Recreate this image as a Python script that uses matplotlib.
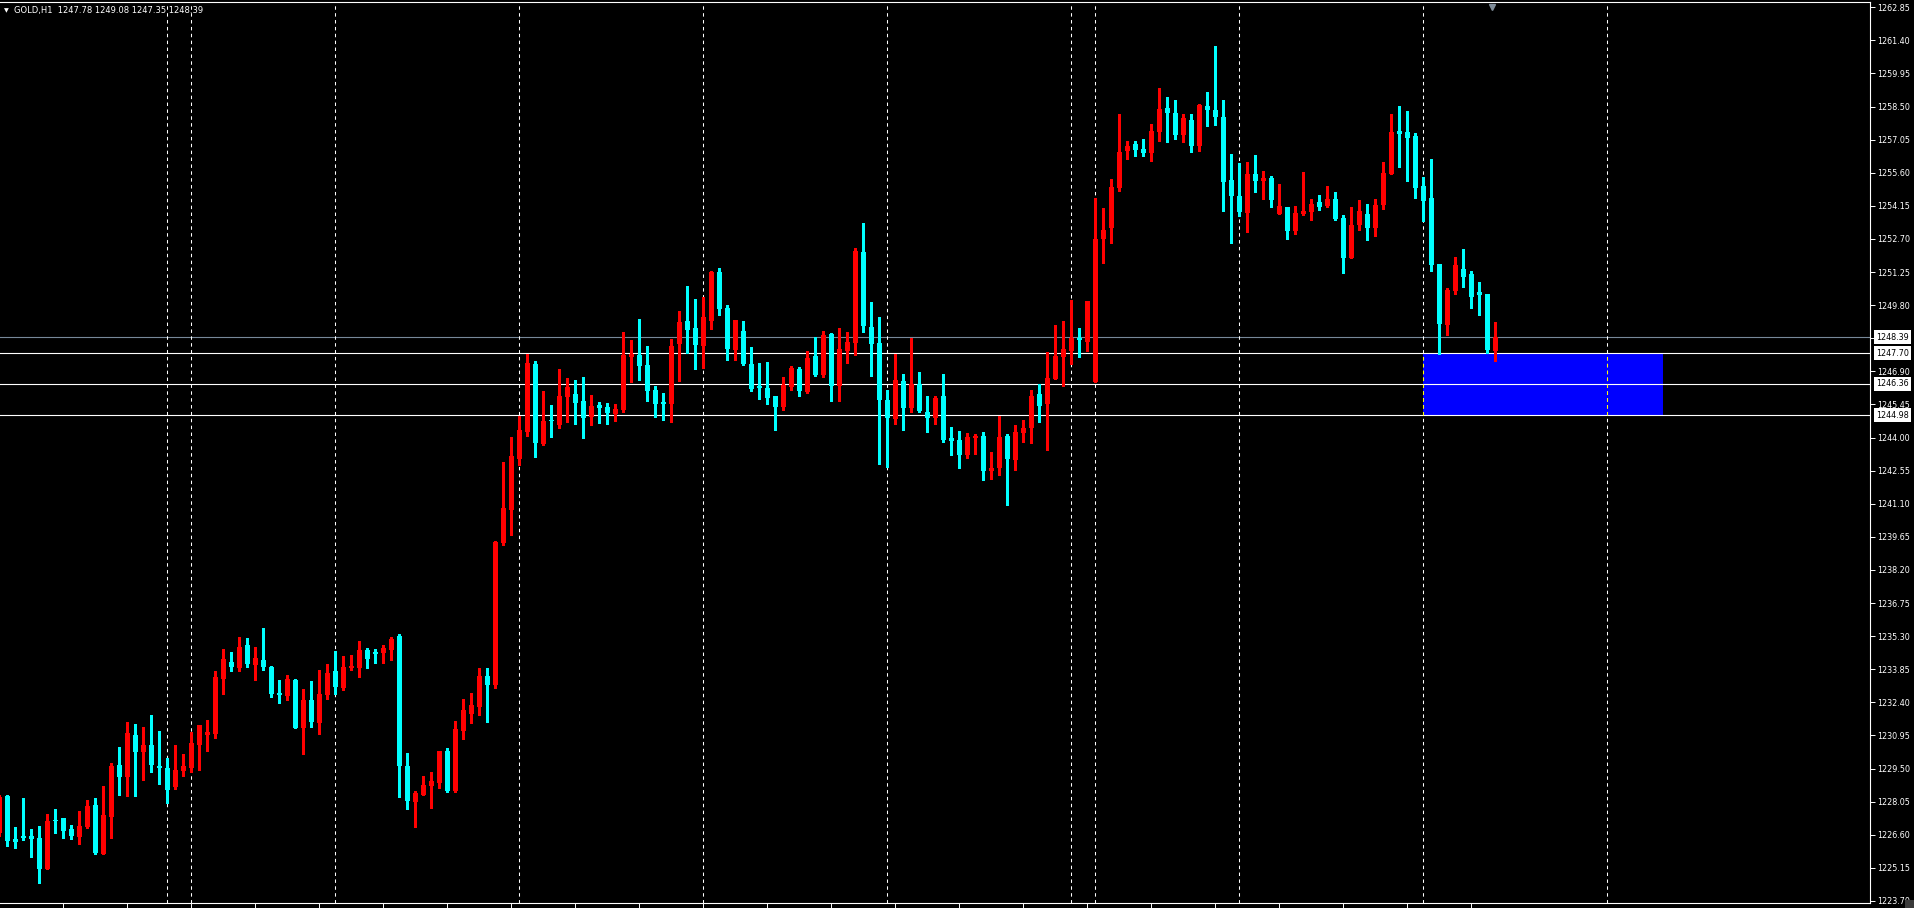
import matplotlib
matplotlib.use('Agg')
import matplotlib.pyplot as plt
import matplotlib.transforms as mtransforms
from matplotlib.patches import Rectangle
import numpy as np

# GOLD H1 - barras (indice da primeira barra = -1)
symbol = 'GOLD,H1'
first_bar = -1

opens = [
    1226.69, 1228.30, 1226.41, 1226.55, 1226.55, 1226.46, 1225.10, 1227.25, 1227.33, 1226.85,
    1226.50, 1226.94, 1227.90, 1225.76, 1227.38, 1229.66, 1229.13, 1230.97, 1230.22, 1230.53,
    1229.61, 1229.52, 1228.69, 1229.39, 1229.52, 1230.53, 1230.97, 1231.01, 1233.42, 1234.16,
    1233.90, 1234.91, 1234.03, 1234.25, 1233.95, 1232.81, 1232.68, 1233.38, 1231.27, 1232.50,
    1231.49, 1232.72, 1233.77, 1233.03, 1233.90, 1233.90, 1234.69, 1234.60, 1234.56, 1234.69,
    1235.30, 1229.61, 1228.03, 1228.34, 1228.74, 1228.87, 1230.27, 1228.52, 1231.14, 1231.89,
    1232.19, 1233.55, 1233.16, 1239.37, 1240.82, 1243.05, 1244.23, 1247.21, 1243.71, 1244.76,
    1244.54, 1245.77, 1245.90, 1245.59, 1244.89, 1245.42, 1245.33, 1245.02, 1245.20, 1247.52,
    1247.60, 1247.17, 1246.07, 1245.55, 1245.46, 1248.09, 1249.09, 1248.79, 1248.00, 1249.09,
    1251.24, 1249.66, 1247.83, 1248.66, 1247.21, 1246.25, 1246.16, 1245.81, 1245.33, 1246.20,
    1246.99, 1245.99, 1247.56, 1246.73, 1248.53, 1246.25, 1247.78, 1248.13, 1252.12, 1248.83,
    1248.13, 1245.64, 1244.80, 1246.47, 1245.29, 1246.34, 1245.11, 1244.85, 1245.81, 1243.97,
    1243.88, 1243.23, 1243.97, 1244.06, 1242.53, 1242.66, 1244.06, 1243.01, 1244.19, 1244.41,
    1245.90, 1245.46, 1246.55, 1247.52, 1247.78, 1248.35, 1248.17, 1246.42, 1252.68, 1253.17,
    1254.92, 1256.54, 1256.84, 1256.63, 1256.45, 1257.37, 1258.42, 1258.20, 1257.24, 1257.89,
    1256.76, 1258.51, 1258.33, 1258.03, 1255.27, 1254.57, 1253.82, 1255.53, 1255.22, 1255.36,
    1253.78, 1254.09, 1253.04, 1253.78, 1253.87, 1254.30, 1254.13, 1254.44, 1253.60, 1251.85,
    1253.30, 1253.78, 1253.17, 1254.17, 1255.53, 1257.41, 1257.37, 1257.19, 1255.01, 1254.48,
    1251.59, 1248.92, 1250.41, 1251.37, 1251.15, 1250.36, 1250.28, 1247.78,
]
highs = [
    1228.35, 1228.34, 1226.94, 1228.21, 1226.84, 1226.98, 1227.51, 1227.73, 1227.33, 1227.03,
    1227.64, 1228.12, 1228.21, 1228.74, 1229.74, 1230.44, 1231.54, 1231.45, 1231.32, 1231.84,
    1231.14, 1229.96, 1230.53, 1230.14, 1231.10, 1231.41, 1231.63, 1233.77, 1234.73, 1234.60,
    1235.26, 1235.21, 1234.82, 1235.65, 1233.99, 1233.38, 1233.60, 1233.42, 1232.98, 1233.33,
    1233.81, 1234.08, 1234.65, 1234.43, 1234.47, 1235.08, 1234.78, 1234.73, 1234.91, 1235.26,
    1235.39, 1230.18, 1228.52, 1229.17, 1229.35, 1230.27, 1230.40, 1231.58, 1232.54, 1232.81,
    1233.90, 1233.90, 1239.46, 1242.92, 1244.02, 1244.93, 1247.65, 1247.34, 1246.03, 1245.42,
    1246.99, 1246.60, 1246.51, 1246.64, 1245.86, 1245.55, 1245.50, 1245.46, 1248.61, 1248.26,
    1249.18, 1248.00, 1246.25, 1245.94, 1248.31, 1249.53, 1250.63, 1250.06, 1250.15, 1251.28,
    1251.42, 1249.80, 1249.14, 1249.09, 1247.96, 1247.25, 1247.30, 1245.81, 1246.64, 1247.12,
    1247.08, 1247.78, 1248.39, 1248.66, 1248.57, 1248.79, 1248.61, 1252.30, 1253.40, 1249.93,
    1249.27, 1246.10, 1247.65, 1246.77, 1248.35, 1246.86, 1245.81, 1245.81, 1246.77, 1244.45,
    1244.28, 1244.19, 1244.15, 1244.23, 1243.36, 1244.94, 1244.15, 1244.54, 1244.76, 1246.07,
    1246.34, 1247.74, 1248.92, 1249.09, 1250.01, 1248.79, 1249.97, 1254.48, 1254.04, 1255.31,
    1258.16, 1256.97, 1256.97, 1257.06, 1257.72, 1259.30, 1258.90, 1258.77, 1258.16, 1258.16,
    1258.60, 1259.12, 1261.13, 1258.77, 1256.41, 1256.01, 1256.06, 1256.36, 1255.66, 1255.44,
    1255.09, 1254.09, 1254.13, 1255.62, 1254.44, 1254.61, 1255.01, 1254.74, 1253.74, 1254.09,
    1254.39, 1254.22, 1254.44, 1256.06, 1258.16, 1258.51, 1258.29, 1257.33, 1255.40, 1256.19,
    1251.59, 1250.54, 1251.90, 1252.25, 1251.28, 1250.80, 1250.28, 1249.08,
]
lows = [
    1226.55, 1226.11, 1226.02, 1226.37, 1225.63, 1224.49, 1225.10, 1226.68, 1226.46, 1226.41,
    1226.20, 1226.90, 1225.76, 1225.76, 1226.46, 1228.34, 1228.30, 1228.30, 1229.00, 1229.35,
    1228.82, 1227.99, 1228.60, 1229.17, 1229.35, 1229.44, 1230.27, 1230.84, 1232.76, 1233.77,
    1233.77, 1233.95, 1233.38, 1233.81, 1232.63, 1232.37, 1232.50, 1231.27, 1230.14, 1231.32,
    1231.01, 1232.54, 1232.76, 1232.94, 1233.81, 1233.51, 1233.90, 1234.12, 1234.12, 1234.25,
    1228.25, 1227.73, 1226.94, 1228.34, 1227.77, 1228.65, 1228.47, 1228.47, 1230.79, 1231.49,
    1231.84, 1231.54, 1233.03, 1239.29, 1239.72, 1242.79, 1244.06, 1243.14, 1243.67, 1244.02,
    1244.41, 1244.67, 1244.59, 1243.97, 1244.54, 1244.63, 1244.59, 1244.72, 1245.11, 1246.42,
    1246.51, 1245.59, 1244.89, 1244.76, 1244.67, 1246.47, 1247.69, 1246.99, 1247.04, 1248.74,
    1249.36, 1247.39, 1247.39, 1247.17, 1246.03, 1245.68, 1245.46, 1244.32, 1245.20, 1246.07,
    1245.81, 1245.94, 1246.69, 1246.64, 1245.59, 1245.59, 1247.25, 1247.60, 1248.61, 1246.69,
    1242.83, 1242.70, 1244.58, 1244.32, 1245.11, 1245.11, 1244.23, 1244.58, 1243.80, 1243.23,
    1242.66, 1243.10, 1243.27, 1242.13, 1242.18, 1242.35, 1241.04, 1242.57, 1243.80, 1243.75,
    1244.67, 1243.45, 1246.55, 1246.25, 1247.21, 1247.52, 1247.78, 1246.42, 1251.63, 1252.51,
    1254.79, 1256.19, 1256.32, 1256.32, 1256.10, 1256.97, 1256.93, 1257.06, 1256.93, 1256.49,
    1256.54, 1257.63, 1257.68, 1253.91, 1252.51, 1253.69, 1252.99, 1254.74, 1254.44, 1254.09,
    1253.78, 1252.68, 1252.90, 1253.74, 1253.52, 1253.95, 1254.09, 1253.52, 1251.20, 1251.85,
    1253.08, 1252.64, 1252.82, 1254.00, 1255.53, 1255.84, 1255.22, 1254.48, 1253.47, 1251.28,
    1247.65, 1248.48, 1250.28, 1250.58, 1249.66, 1249.36, 1247.69, 1247.35,
]
closes = [
    1228.25, 1226.34, 1226.28, 1226.46, 1226.41, 1225.10, 1227.20, 1227.20, 1226.77, 1226.55,
    1226.98, 1227.86, 1225.80, 1227.47, 1229.61, 1229.13, 1231.06, 1230.22, 1230.53, 1229.66,
    1229.52, 1228.56, 1229.44, 1229.61, 1230.62, 1231.41, 1231.10, 1233.51, 1234.30, 1233.95,
    1234.82, 1234.08, 1234.34, 1233.95, 1232.76, 1232.72, 1233.42, 1231.27, 1232.50, 1231.54,
    1232.76, 1233.68, 1233.07, 1233.95, 1233.99, 1234.69, 1234.30, 1234.51, 1234.78, 1235.17,
    1229.61, 1228.08, 1228.43, 1228.78, 1228.95, 1230.27, 1228.52, 1231.23, 1232.06, 1232.28,
    1233.55, 1233.16, 1239.42, 1240.91, 1243.18, 1244.32, 1247.26, 1243.75, 1244.72, 1244.72,
    1245.81, 1246.20, 1245.50, 1244.85, 1245.37, 1245.29, 1245.07, 1245.24, 1247.60, 1247.65,
    1247.12, 1246.03, 1245.46, 1245.46, 1248.00, 1249.05, 1248.70, 1248.04, 1249.27, 1251.24,
    1249.62, 1247.87, 1249.14, 1247.21, 1246.12, 1246.16, 1245.72, 1245.33, 1246.29, 1247.04,
    1246.03, 1247.47, 1246.73, 1248.48, 1246.25, 1247.87, 1248.17, 1252.16, 1248.88, 1248.09,
    1245.64, 1244.85, 1246.51, 1245.29, 1246.34, 1245.15, 1244.85, 1245.72, 1243.88, 1243.84,
    1243.23, 1244.02, 1244.06, 1242.53, 1242.66, 1244.02, 1243.05, 1244.23, 1244.41, 1245.81,
    1245.37, 1246.60, 1247.56, 1247.87, 1248.35, 1248.26, 1249.97, 1252.68, 1253.08, 1254.96,
    1256.49, 1256.76, 1256.58, 1256.45, 1257.41, 1258.38, 1258.20, 1257.24, 1257.98, 1256.76,
    1258.55, 1258.33, 1258.03, 1255.18, 1254.57, 1253.87, 1255.53, 1255.22, 1255.36, 1254.39,
    1254.13, 1253.04, 1253.82, 1253.91, 1254.22, 1254.09, 1254.44, 1253.56, 1251.85, 1253.30,
    1253.91, 1253.17, 1254.17, 1255.57, 1257.37, 1257.28, 1257.11, 1254.92, 1254.35, 1251.55,
    1248.96, 1250.45, 1251.55, 1251.02, 1250.15, 1250.23, 1247.82, 1248.39,
]

# separadores de periodo (indice da barra) e ticks de tempo
separators = [20, 23, 41, 64, 87, 110, 133, 136, 154, 177, 200]
time_ticks = list(range(7, 184, 8))

# linhas horizontais e retangulo
bid_price = 1248.39
levels = [1247.70, 1246.36, 1244.98]
zone_bars = (177, 207)
zone_prices = (1244.98, 1247.70)

price_ticks = [round(1223.70 + 1.45 * i, 2) for i in range(28)]

bull_color = '#ff0000'
bear_color = '#00ffff'

# ---------------------------------------------------------------
W, H = 1914, 908
fig = plt.figure(figsize=(W / 100, H / 100), dpi=100, facecolor='black')
ax = fig.add_axes([0, 5 / H, 1870 / W, 901 / H])
ax.set_facecolor('black')

ax.set_xlim(-0.916, 232.83)
ax.set_ylim(1223.612, 1263.078)

o = np.array(opens)
h = np.array(highs)
l = np.array(lows)
c = np.array(closes)
x = np.arange(first_bar, first_bar + len(o))
colors = np.where(c >= o, bull_color, bear_color)

# retangulo azul
ax.add_patch(Rectangle((zone_bars[0], zone_prices[0]), zone_bars[1] - zone_bars[0],
                       zone_prices[1] - zone_prices[0], facecolor='#0000ff',
                       edgecolor='none', zorder=1))

# linhas horizontais
ax.axhline(bid_price, color='#778899', lw=0.8, zorder=2)
for lv in levels:
    ax.axhline(lv, color='white', lw=0.8, zorder=2)

# separadores (atras das velas)
for s in separators:
    ax.axvline(s, color='white', lw=0.75, linestyle=(0, (3.3, 3.3)), zorder=2)
    if zone_bars[0] <= s <= zone_bars[1]:
        ax.vlines(s, zone_prices[0], zone_prices[1], color='yellow', lw=0.75,
                  linestyles=(0, (3.3, 3.3)), zorder=2.5)

# velas
ax.vlines(x, l, h, colors=colors, lw=0.75, zorder=3, antialiased=False)
body_bottom = np.minimum(o, c)
body_height = np.maximum(np.abs(c - o), 0.045)
ax.bar(x, body_height, bottom=body_bottom, width=0.64, color=colors,
       linewidth=0, zorder=3, antialiased=False)

# eixos
ax.spines['left'].set_visible(False)
for side in ['right', 'bottom', 'top']:
    ax.spines[side].set_color('white')
    ax.spines[side].set_linewidth(0.8)

ax.yaxis.tick_right()
ax.set_yticks(price_ticks)
ax.set_yticklabels(['%.2f' % p for p in price_ticks])
ax.tick_params(axis='y', direction='out', length=3.5, width=0.7, colors='white',
               labelsize=5.8, pad=1.5)
ax.set_xticks(time_ticks)
ax.set_xticklabels([])
ax.tick_params(axis='x', direction='out', length=4, width=0.7, colors='white')

# etiquetas das linhas no eixo de precos
ytrans = mtransforms.blended_transform_factory(ax.transAxes, ax.transData)
for lv in [bid_price] + levels:
    ax.text(1.0032, lv, '%.2f' % lv, transform=ytrans, ha='left', va='center',
            fontsize=5.8, color='black', zorder=10, clip_on=False,
            bbox=dict(boxstyle='square,pad=0.3', facecolor='white', edgecolor='none'))

# marcador de deslocamento do grafico
xtrans = mtransforms.blended_transform_factory(ax.transData, ax.transAxes)
ax.plot([185.6], [0.994], marker='v', color='#7f8c99', markersize=4.5,
        transform=xtrans, clip_on=False, zorder=6)

# titulo
fig.text(4 / W, 1 - 11 / H, '\u25bc', color='white', fontsize=4.5, va='center', ha='left')
fig.text(14 / W, 1 - 11 / H, '%s  %.2f %.2f %.2f %.2f' % (symbol, opens[-1], highs[-1], lows[-1], closes[-1]),
         color='white', fontsize=6.0, va='center', ha='left')

# cantinho cinza
fig.patches.append(Rectangle((1905 / W, 0), 9 / W, 8 / H, transform=fig.transFigure,
                             facecolor='#3a3a3a', edgecolor='none'))

fig.savefig('out.png', dpi=100, facecolor='black')
